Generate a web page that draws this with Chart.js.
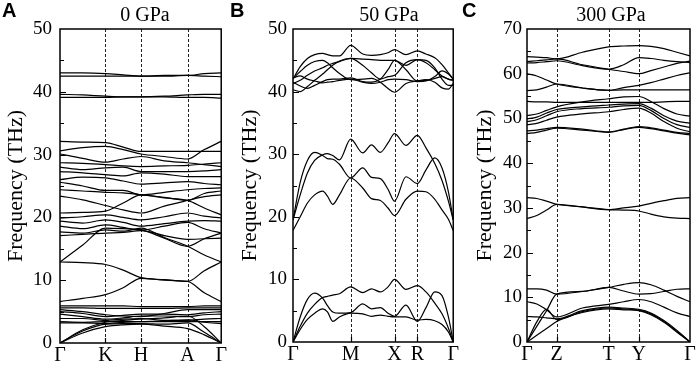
<!DOCTYPE html>
<html lang="en">
<head>
<meta charset="UTF-8">
<title>Phonon dispersion</title>
<script src="https://cdn.jsdelivr.net/npm/chart.js"></script>
<style>
    body { margin: 0; background: #fff; }
    #wrap { position: relative; width: 699px; height: 368px; }
    canvas { position: absolute; top: 0; }
</style>
</head>
<body>
<div id="wrap">
    <canvas id="chartA" width="228" height="368" style="left:0px"></canvas>
    <canvas id="chartB" width="232" height="368" style="left:228px"></canvas>
    <canvas id="chartC" width="239" height="368" style="left:460px"></canvas>
</div>

<script>
// ---- panel A : 0 GPa ----
const pathA = [0, 0.141, 0.282, 0.392, 0.503, 0.647, 0.791, 0.895, 1];
const symA = [0, 0.282, 0.503, 0.791, 1];
const labelsA = ['Γ', 'K', 'H', 'A', 'Γ'];
const bandsA = [
    [43.0, 43.0, 42.9, 42.7, 42.5, 42.6, 42.6, 42.9, 43.0],
    [42.5, 42.5, 42.5, 42.5, 42.5, 42.5, 42.6, 42.5, 42.4],
    [39.6, 39.5, 39.3, 39.2, 39.2, 39.3, 39.5, 39.6, 39.6],
    [39.1, 39.1, 39.1, 39.2, 39.2, 39.2, 39.1, 39.1, 39.0],
    [32.1, 32.0, 31.9, 31.2, 30.5, 30.5, 30.5, 30.5, 30.5],
    [30.6, 31.1, 31.3, 30.8, 30.1, 29.7, 29.3, 30.8, 32.1],
    [30.1, 29.4, 28.8, 29.3, 29.7, 29.0, 28.7, 28.4, 28.1],
    [28.7, 28.6, 28.4, 28.2, 28.1, 28.2, 28.3, 28.5, 28.7],
    [28.0, 27.6, 27.9, 28.0, 27.3, 27.3, 27.3, 27.4, 27.6],
    [27.3, 27.1, 26.8, 26.6, 27.1, 26.9, 26.5, 26.5, 26.5],
    [26.0, 26.4, 26.3, 25.8, 25.3, 25.5, 25.7, 25.4, 25.2],
    [25.6, 25.0, 24.3, 24.3, 23.6, 24.0, 24.4, 24.6, 24.7],
    [24.4, 24.2, 24.0, 23.9, 23.6, 23.2, 22.7, 23.8, 24.2],
    [23.4, 22.8, 21.9, 21.2, 20.7, 21.8, 22.7, 23.3, 23.6],
    [20.7, 20.8, 21.0, 22.3, 23.6, 23.1, 22.7, 21.5, 20.4],
    [19.9, 20.1, 20.4, 20.0, 19.6, 20.1, 20.7, 20.2, 19.9],
    [19.4, 19.1, 19.6, 19.2, 18.6, 19.0, 19.4, 19.5, 19.4],
    [18.6, 18.2, 18.8, 18.4, 18.0, 18.6, 19.2, 18.2, 17.5],
    [17.7, 17.5, 18.0, 17.8, 18.3, 16.8, 15.4, 14.0, 12.9],
    [17.1, 17.3, 17.5, 17.6, 17.9, 17.1, 16.5, 16.6, 16.7],
    [12.9, 15.6, 18.3, 18.2, 18.0, 16.7, 15.4, 16.6, 17.5],
    [12.9, 12.8, 12.5, 11.6, 10.4, 10.1, 9.8, 11.5, 12.9],
    [6.6, 7.1, 7.7, 8.8, 10.3, 10.0, 9.8, 8.0, 6.6],
    [5.9, 5.9, 5.9, 5.9, 5.8, 5.8, 5.8, 5.9, 5.9],
    [5.6, 5.6, 5.5, 5.5, 5.5, 5.5, 5.6, 5.6, 5.6],
    [5.3, 5.0, 4.5, 4.3, 4.2, 4.7, 5.3, 5.3, 5.3],
    [5.0, 4.7, 4.2, 4.4, 4.6, 4.6, 4.5, 4.8, 5.0],
    [4.6, 4.2, 3.8, 4.0, 4.3, 4.3, 4.2, 4.5, 4.6],
    [3.9, 3.9, 3.6, 3.8, 3.9, 3.6, 3.6, 3.8, 3.9],
    [3.4, 3.3, 3.4, 3.4, 3.4, 3.4, 3.4, 3.4, 3.4],
    [3.2, 3.2, 3.1, 3.3, 3.4, 3.5, 3.7, 3.3, 3.1],
    [0, 1.6, 2.6, 2.9, 3.0, 2.7, 2.3, 1.3, 0],
    [0, 1.9, 3.0, 3.1, 3.1, 3.0, 3.2, 1.7, 0],
    [0, 2.1, 3.3, 3.6, 3.8, 4.0, 4.3, 2.6, 0]
];

// ---- panel B : 50 GPa ----
const pathB = [0, 0.045, 0.09, 0.135, 0.185, 0.215, 0.248, 0.29, 0.36, 0.435, 0.49,
               0.545, 0.593, 0.634, 0.705, 0.776, 0.83, 0.885, 0.93, 0.97, 1];
const symB = [0, 0.36, 0.634, 0.776, 1];
const labelsB = ['Γ', 'M', 'X', 'R', 'Γ'];
const bandsB = [
    [42.0, 44.0, 45.3, 45.9, 46.1, 45.9, 45.7, 45.7, 47.4, 46.0, 45.8, 45.9, 46.2, 46.7, 45.9, 46.5, 46.0, 45.4, 44.3, 43.0, 42.0],
    [42.1, 43.2, 44.2, 44.8, 45.0, 44.6, 43.8, 42.9, 41.9, 42.0, 42.1, 41.5, 40.5, 39.9, 41.3, 41.7, 41.9, 41.5, 40.6, 40.4, 41.3],
    [40.3, 40.0, 40.8, 41.8, 42.8, 43.5, 44.2, 44.9, 45.3, 45.2, 45.1, 45.0, 45.0, 45.0, 44.2, 45.1, 44.6, 43.5, 42.5, 42.0, 41.8],
    [41.3, 41.8, 42.6, 43.3, 43.8, 44.2, 44.5, 44.8, 45.3, 44.2, 43.0, 42.0, 42.4, 42.6, 44.6, 45.1, 45.0, 43.8, 42.0, 41.0, 41.0],
    [41.5, 40.9, 40.5, 41.0, 41.6, 41.9, 42.0, 42.0, 42.2, 41.6, 41.5, 42.0, 43.5, 45.0, 43.5, 41.7, 41.8, 42.1, 42.4, 42.0, 41.8],
    [42.2, 42.5, 42.0, 41.7, 41.4, 41.5, 41.6, 41.8, 42.0, 41.5, 41.3, 41.5, 41.9, 42.0, 41.9, 41.6, 41.7, 42.4, 43.3, 42.8, 42.0],
    [17.8, 20.0, 22.2, 23.5, 24.1, 23.3, 22.0, 23.5, 26.2, 24.6, 22.9, 22.6, 21.4, 20.2, 22.8, 24.1, 24.0, 22.8, 21.1, 19.6, 17.8],
    [19.5, 25.5, 29.0, 30.3, 29.8, 29.3, 29.2, 28.4, 26.2, 27.8, 26.3, 26.1, 24.4, 22.5, 26.4, 25.3, 27.5, 29.4, 27.8, 24.0, 19.5],
    [19.5, 23.5, 27.0, 29.0, 29.9, 30.1, 29.8, 29.1, 32.4, 30.2, 31.5, 30.3, 31.8, 33.3, 31.4, 33.0, 31.0, 28.5, 25.8, 22.5, 19.5],
    [0, 2.5, 4.6, 6.0, 7.1, 7.3, 7.5, 7.7, 8.8, 7.9, 8.5, 8.0, 8.8, 10.0, 8.4, 9.0, 8.0, 6.2, 4.5, 2.2, 0],
    [0, 4.0, 6.8, 7.8, 7.0, 5.8, 4.8, 4.6, 4.7, 6.1, 5.3, 5.5, 4.6, 4.1, 5.9, 3.3, 5.5, 8.0, 7.4, 4.0, 0],
    [0, 2.0, 3.6, 4.6, 5.3, 4.8, 3.3, 4.0, 4.6, 4.5, 4.1, 4.3, 4.1, 4.0, 4.0, 3.5, 3.6, 3.4, 2.8, 1.6, 0]
];

// ---- panel C : 300 GPa ----
const pathC = [0, 0.06, 0.12, 0.182, 0.34, 0.5, 0.593, 0.686, 0.76, 0.84, 0.92, 1];
const symC = [0, 0.182, 0.5, 0.686, 1];
const labelsC = ['Γ', 'Z', 'T', 'Y', 'Γ'];
const bandsC = [
    [63.8, 63.7, 63.6, 63.3, 64.8, 66.0, 66.2, 66.3, 66.1, 65.6, 64.8, 64.0],
    [62.7, 62.9, 63.1, 63.3, 62.0, 61.0, 60.5, 60.0, 60.7, 61.5, 62.3, 62.8],
    [62.4, 62.5, 62.7, 62.9, 61.8, 61.0, 62.0, 63.6, 63.4, 63.0, 62.7, 62.5],
    [60.0, 59.5, 58.6, 57.7, 56.8, 56.3, 56.9, 57.4, 58.0, 58.8, 59.6, 60.2],
    [56.2, 56.4, 57.0, 57.7, 56.8, 56.3, 56.4, 56.4, 56.4, 56.4, 56.4, 56.4],
    [53.8, 53.7, 53.7, 53.6, 53.6, 53.6, 53.6, 53.6, 53.6, 53.7, 53.8, 53.8],
    [50.6, 51.0, 51.8, 52.6, 53.7, 54.4, 54.8, 54.9, 53.8, 52.2, 51.0, 50.5],
    [49.9, 50.3, 51.2, 52.0, 52.6, 53.0, 53.2, 53.3, 52.3, 50.6, 49.4, 48.9],
    [49.3, 49.7, 50.6, 51.5, 52.2, 52.5, 52.8, 52.9, 51.8, 50.0, 48.6, 48.0],
    [48.6, 48.9, 49.6, 50.3, 51.0, 51.5, 52.0, 52.3, 51.2, 49.3, 47.8, 47.0],
    [47.2, 47.4, 47.7, 48.0, 47.6, 47.0, 47.6, 48.2, 47.9, 47.4, 46.9, 46.6],
    [46.6, 46.9, 47.4, 47.8, 47.4, 46.9, 47.5, 48.0, 47.7, 47.2, 46.7, 46.3],
    [32.3, 32.1, 31.5, 30.8, 30.2, 29.6, 30.0, 30.4, 31.0, 31.6, 32.1, 32.3],
    [27.6, 28.3, 29.5, 30.8, 30.2, 29.6, 29.5, 29.3, 28.6, 28.0, 27.7, 27.6],
    [11.9, 11.9, 11.6, 10.7, 11.3, 12.2, 12.9, 13.3, 12.8, 11.6, 10.2, 9.0],
    [0, 3.5, 7.0, 10.7, 11.3, 12.2, 11.4, 10.7, 10.8, 11.3, 11.8, 11.9],
    [9.0, 8.5, 7.2, 5.6, 7.6, 8.4, 9.0, 9.5, 9.0, 7.8, 6.5, 5.7],
    [5.7, 5.6, 5.4, 5.2, 7.0, 7.8, 7.6, 7.3, 6.5, 4.8, 2.6, 0],
    [0, 4.5, 7.3, 5.0, 6.8, 7.6, 7.4, 7.1, 6.3, 4.6, 2.4, 0],
    [0, 1.5, 3.0, 4.6, 6.6, 7.4, 7.2, 7.0, 6.1, 4.4, 2.2, 0]
];

const SERIF = "'Liberation Serif', serif";
Chart.defaults.font.family = SERIF;
Chart.defaults.color = '#000';

// frame, dotted high-symmetry lines, inward ticks and panel captions
const bandFrame = {
    id: 'bandFrame',
    beforeDatasetsDraw(chart, args, opts) {
        const {ctx, chartArea: a, scales: {x}} = chart;
        ctx.save();
        ctx.strokeStyle = '#222';
        ctx.lineWidth = 1;
        ctx.setLineDash([3, 2]);
        opts.sym.slice(1, -1).forEach(v => {
            const px = Math.round(x.getPixelForValue(v)) + 0.5;
            ctx.beginPath();
            ctx.moveTo(px, a.top);
            ctx.lineTo(px, a.bottom);
            ctx.stroke();
        });
        ctx.restore();
    },
    afterDatasetsDraw(chart, args, opts) {
        const {ctx, chartArea: a, scales: {x, y}} = chart;
        ctx.save();
        ctx.strokeStyle = '#000';
        ctx.lineWidth = 1.5;
        ctx.strokeRect(a.left, a.top, a.right - a.left, a.bottom - a.top);

        ctx.lineWidth = 1.2;
        ctx.beginPath();
        for (let v = 5; v < y.max; v += 5) {
            const py = Math.round(y.getPixelForValue(v)) + 0.5;
            ctx.moveTo(a.left, py);
            ctx.lineTo(a.left + (v % 10 === 0 ? 6 : 4), py);
        }
        opts.sym.slice(1, -1).forEach(v => {
            const px = Math.round(x.getPixelForValue(v)) + 0.5;
            ctx.moveTo(px, a.bottom);
            ctx.lineTo(px, a.bottom - 5);
        });
        ctx.stroke();

        ctx.fillStyle = '#000';
        ctx.font = '20px ' + SERIF;
        ctx.textAlign = 'center';
        ctx.textBaseline = 'alphabetic';
        ctx.fillText(opts.title, opts.titleX, 21);
        ctx.font = "bold 20px 'Liberation Sans', sans-serif";
        ctx.textAlign = 'left';
        ctx.fillText(opts.letter, 2, 17);
        ctx.restore();
    }
};

function makePanel(id, p) {
    const datasets = p.bands.map(b => ({
        data: b.map((v, i) => ({x: p.path[i], y: v})),
        borderColor: '#000',
        borderWidth: 1.2,
        pointRadius: 0,
        fill: false,
        cubicInterpolationMode: 'monotone'
    }));
    return new Chart(document.getElementById(id), {
        type: 'line',
        data: {datasets: datasets},
        options: {
            responsive: false,
            animation: false,
            devicePixelRatio: 1,
            layout: {padding: {top: 29, right: p.right, left: 0, bottom: 0}},
            plugins: {
                legend: {display: false},
                tooltip: {enabled: false},
                bandFrame: {sym: p.sym, title: p.title, titleX: p.titleX, letter: p.letter}
            },
            scales: {
                x: {
                    type: 'linear', min: 0, max: 1,
                    afterBuildTicks: s => { s.ticks = p.sym.map(v => ({value: v})); },
                    afterFit: s => { s.height = p.xh; },
                    ticks: {
                        autoSkip: false, maxRotation: 0, padding: 1, color: '#000',
                        font: {family: SERIF, size: 20},
                        callback: (v, i) => p.labels[i]
                    },
                    grid: {display: false, drawTicks: false},
                    border: {display: false}
                },
                y: {
                    min: 0, max: p.ymax,
                    afterFit: s => { s.width = p.yw; },
                    ticks: {stepSize: 10, padding: p.tickPad, color: '#000', font: {family: SERIF, size: 19}},
                    title: {
                        display: true, text: 'Frequency (THz)', color: '#000',
                        font: {family: SERIF, size: 22}, padding: {top: p.titlePad, bottom: 0}
                    },
                    grid: {display: false, drawTicks: false},
                    border: {display: false}
                }
            }
        },
        plugins: [bandFrame]
    });
}

makePanel('chartA', {path: pathA, sym: symA, labels: labelsA, bands: bandsA, ymax: 50,
    title: '0 GPa', titleX: 145, letter: 'A', yw: 60, right: 5, xh: 25, tickPad: 8, titlePad: 3});
makePanel('chartB', {path: pathB, sym: symB, labels: labelsB, bands: bandsB, ymax: 50,
    title: '50 GPa', titleX: 161, letter: 'B', yw: 65, right: 3, xh: 26, tickPad: 6, titlePad: 9});
makePanel('chartC', {path: pathC, sym: symC, labels: labelsC, bands: bandsC, ymax: 70,
    title: '300 GPa', titleX: 151, letter: 'C', yw: 67, right: 9, xh: 26, tickPad: 5, titlePad: 12});
</script>
</body>
</html>
